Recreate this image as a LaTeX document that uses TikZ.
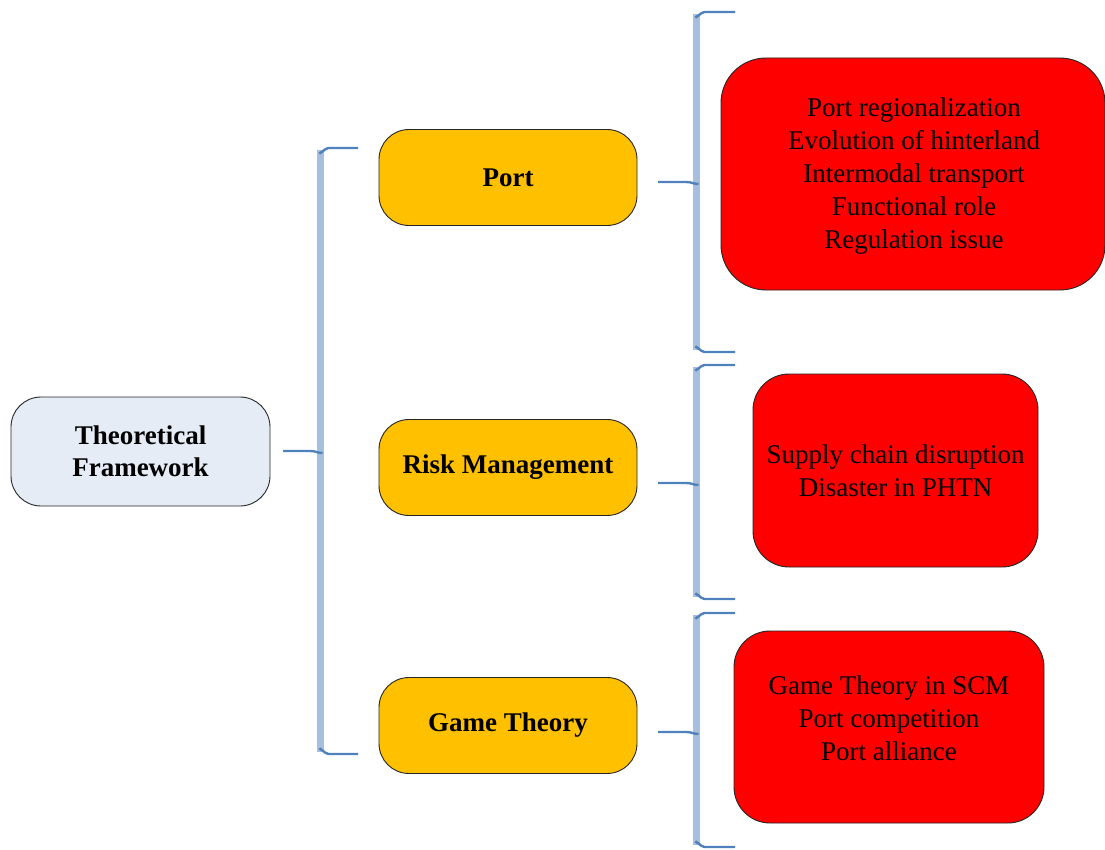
\documentclass[tikz,border=0pt]{standalone}
\usepackage{fontspec}
\setmainfont{Liberation Serif}
\definecolor{rootfill}{HTML}{E5ECF6}
\definecolor{topicfill}{HTML}{FFC000}
\definecolor{itemfill}{HTML}{FF0000}
\definecolor{braceLight}{HTML}{A7BFDE}
\definecolor{braceDark}{HTML}{4F81BD}
\begin{document}
\begin{tikzpicture}[x=1pt,y=-1pt,
  box/.style={draw=black!85, line width=0.9pt, rounded corners=30pt, inner sep=0pt},
  rootbox/.style={box, fill=rootfill, minimum width=259pt, minimum height=109pt,
    align=center, font=\fontsize{27}{32}\selectfont\bfseries},
  topicbox/.style={box, fill=topicfill, minimum width=258pt, minimum height=96pt,
    font=\fontsize{27}{32}\selectfont\bfseries},
  itembox/.style={box, fill=itemfill, rounded corners=40pt},
  itemtext/.style={align=center, inner sep=0pt, font=\fontsize{27}{32.8}\selectfont},
  bracebar/.style={draw=braceLight, line width=6.5pt},
  bracearm/.style={draw=braceDark, line width=2.4pt},
]
\useasboundingbox (0,0) rectangle (1105,850);

% nodes
\node[rootbox] (tf) at (140.5,451.5) {Theoretical\\Framework};
\node[topicbox] (port) at (508,177.5) {Port};
\node[topicbox] (risk) at (508,467.5) {Risk Management};
\node[topicbox] (game) at (508,725.5) {Game Theory};

\node[itembox, minimum width=384pt, minimum height=232pt, rounded corners=45pt] (portbox) at (913,174) {};
\node[itemtext] (porttext) at (914,176) {Port regionalization\\Evolution of hinterland\\Intermodal transport\\Functional role\\Regulation issue};

\node[itembox, minimum width=285pt, minimum height=193pt, rounded corners=36pt] (riskbox) at (895.5,470.5) {};
\node[itemtext] (risktext) at (895.5,471) {Supply chain disruption\\Disaster in PHTN};

\node[itembox, minimum width=310pt, minimum height=192pt, rounded corners=36pt] (gamebox) at (889,727) {};
\node[itemtext] (gametext) at (889,718) {Game Theory in SCM\\Port competition\\Port alliance};

% bracket shapes: tip x, bar x, top y, tip y, bottom y, arm end x
\newcommand{\bracketshape}[6]{%
  \coordinate (bt) at (#1,#4);
  \coordinate (ba) at (#6,#3);
  \coordinate (bb) at (#6,#5);
  \draw[bracebar] (#2,#3+2) -- (#2,#5-2);
  \draw[bracearm] (#2-1,#3+4) to[out=-90,in=180] (#2+8,#3) -- (ba);
  \draw[bracearm] (#2-1,#5-4) to[out=90,in=180] (#2+8,#5) -- (bb);
  \draw[bracearm] (bt) -- (#2-10,#4) to[out=0,in=180] (#2+2,#4+2);
}

% root bracket
\bracketshape{283}{320.5}{148}{451}{754}{358}
% topic brackets
\bracketshape{658}{696.5}{12}{182}{352}{735}
\bracketshape{658}{696.5}{365}{483}{599}{735}
\bracketshape{658}{696.5}{613}{732}{847}{735}

\end{tikzpicture}
\end{document}
